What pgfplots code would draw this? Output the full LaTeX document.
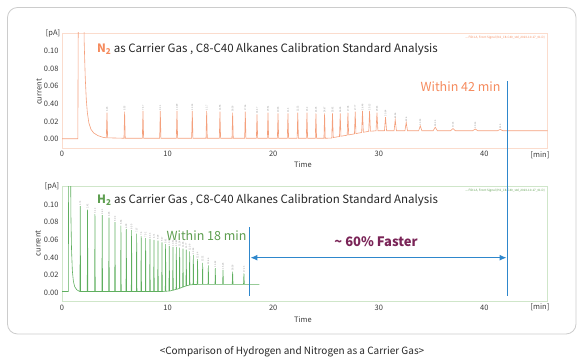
\documentclass[border=0pt]{standalone}
\usepackage{fontspec}
\setmainfont{Noto Sans CJK KR}
\usepackage{pgfplots}
\usepackage{pgfplotstable}
\pgfplotsset{compat=1.18}
\usetikzlibrary{arrows.meta}
\definecolor{norange}{HTML}{F4A07C}
\definecolor{ntext}{HTML}{F58B5E}
\definecolor{nframe}{HTML}{FBDCCD}
\definecolor{hgreen}{HTML}{5FAF5F}
\definecolor{htext}{HTML}{5E9E50}
\definecolor{hframe}{HTML}{CFE6C9}
\definecolor{blu}{HTML}{2E87CC}
\definecolor{purp}{HTML}{7A2457}
\definecolor{tickc}{HTML}{3A3A3A}

\pgfplotstableread{
t h
4.26 0.030
5.93 0.031
7.67 0.032
9.31 0.032
10.89 0.032
12.34 0.032
13.70 0.032
14.96 0.031
16.16 0.030
17.36 0.031
18.47 0.028
19.51 0.030
20.46 0.029
21.40 0.029
22.33 0.030
23.20 0.030
24.05 0.029
24.87 0.029
25.62 0.029
26.35 0.029
27.08 0.030
27.77 0.031
28.46 0.032
29.13 0.032
29.83 0.030
30.64 0.025
31.56 0.022
32.60 0.019
33.93 0.015
35.35 0.0135
37.03 0.012
39.14 0.0115
41.50 0.011
}\ntips

\pgfplotstableread{
t h
1.73 0.098
2.42 0.094
3.12 0.089
3.81 0.088
4.45 0.085
5.02 0.080
5.58 0.076
6.09 0.072
6.59 0.071
7.07 0.067
7.50 0.064
7.92 0.062
8.33 0.061
8.71 0.060
9.09 0.059
9.47 0.057
9.81 0.055
10.16 0.053
10.51 0.052
10.83 0.052
11.14 0.051
11.46 0.050
11.77 0.049
12.09 0.047
12.44 0.043
12.84 0.038
13.32 0.034
13.86 0.031
14.52 0.028
15.25 0.026
16.16 0.024
17.23 0.022
}\htips

\pgfplotsset{chrom/.style={
  scale only axis, width=485.7pt, height=115pt,
  xmin=0, xmax=46, ymin=-0.01, ymax=0.12,
  xtick={0,10,20,30,40},
  ytick={0,0.02,0.04,0.06,0.08,0.10},
  yticklabel={\ifcase\ticknum\relax 0.00\or 0.02\or 0.40\or 0.06\or 0.08\or 0.10\fi},
  xticklabel={\ifcase\ticknum\relax 0\or 10\or 20\or 30\or 40\fi},
  major tick length=0pt,
  tick label style={font=\fontsize{7.5}{9}\selectfont, text=tickc},
  /pgf/number format/assume math mode=true,
  clip=true,
},
peaklbl/.style={draw=none, mark=none, point meta=x,
  nodes near coords={\pgfmathprintnumber[fixed,precision=2]{\pgfplotspointmeta}},
  every node near coord/.append style={rotate=90, anchor=west, inner sep=0.6pt,
    font=\fontsize{2.4}{3}\selectfont, text=gray!80}}
}

\begin{document}
\begin{tikzpicture}
\useasboundingbox (0pt,0pt) rectangle (582pt,361pt);
\draw[black!20, line width=0.8pt, rounded corners=10pt] (7.5pt,27pt) rectangle (576pt,353.5pt);

% ---- top: N2
\begin{axis}[chrom, at={(62pt,213pt)}, anchor=south west, axis line style={draw=nframe, line width=0.8pt}]
\addplot[norange, line width=0.6pt] coordinates {
(0,0.0005)(1.5,0.0005)(1.56,0.2)(2.05,0.2)(2.1,0.11)(2.2,0.07)(2.3,0.045)(2.4,0.03)(2.55,0.018)(2.75,0.011)(3.0,0.007)(3.4,0.004)(3.9,0.002)
(4.2,0.0015)(4.26,0.030)(4.32,0.0015)
(5.87,0.001)(5.93,0.031)(5.99,0.001)
(7.61,0.001)(7.67,0.032)(7.73,0.001)
(9.25,0.001)(9.31,0.032)(9.37,0.001)
(10.83,0.001)(10.89,0.032)(10.95,0.001)
(12.28,0.001)(12.34,0.032)(12.40,0.001)
(13.64,0.001)(13.70,0.032)(13.76,0.001)
(14.90,0.001)(14.96,0.031)(15.02,0.001)
(16.10,0.001)(16.16,0.030)(16.22,0.001)
(17.30,0.001)(17.36,0.031)(17.42,0.001)
(18.41,0.001)(18.47,0.028)(18.53,0.001)
(19.45,0.001)(19.51,0.030)(19.57,0.001)
(20.40,0.001)(20.46,0.029)(20.52,0.001)
(21.34,0.001)(21.40,0.029)(21.46,0.001)
(22.27,0.001)(22.33,0.030)(22.39,0.001)
(23.14,0.001)(23.20,0.030)(23.26,0.001)
(23.99,0.001)(24.05,0.029)(24.11,0.001)
(24.81,0.001)(24.87,0.029)(24.93,0.001)
(25.55,0.0012)(25.62,0.029)(25.69,0.0018)
(26.28,0.003)(26.35,0.029)(26.42,0.0033)
(27.01,0.0045)(27.08,0.030)(27.15,0.0048)
(27.70,0.006)(27.77,0.031)(27.84,0.0063)
(28.38,0.0075)(28.46,0.032)(28.54,0.0078)
(29.05,0.0088)(29.13,0.032)(29.21,0.009)
(29.74,0.0094)(29.83,0.030)(29.92,0.0095)
(30.54,0.0095)(30.64,0.025)(30.74,0.0095)
(31.45,0.0095)(31.56,0.022)(31.67,0.0095)
(32.48,0.0095)(32.60,0.019)(32.72,0.0095)
(33.78,0.0095)(33.93,0.015)(34.08,0.0095)
(35.15,0.0095)(35.35,0.0135)(35.55,0.0095)
(36.80,0.0095)(37.03,0.012)(37.26,0.0095)
(38.90,0.0095)(39.14,0.0115)(39.38,0.0095)
(41.25,0.0095)(41.50,0.011)(41.75,0.0095)
(46,0.0095)};
\addplot[peaklbl] table[x=t,y=h] {\ntips};
\end{axis}

% ---- bottom: H2
\begin{axis}[chrom, at={(62pt,59.3pt)}, anchor=south west, axis line style={draw=hframe, line width=0.8pt}]
\addplot[hgreen, line width=0.6pt] coordinates {
(0,0.0015)(0.6,0.0015)(0.64,0.2)(0.8,0.2)(0.84,0.09)(0.9,0.05)(0.98,0.025)(1.08,0.013)(1.2,0.007)(1.4,0.0035)(1.6,0.002)
(1.70,0.0015)(1.73,0.098)(1.76,0.0015)
(2.39,0.0015)(2.42,0.094)(2.45,0.0015)
(3.09,0.0015)(3.12,0.089)(3.15,0.0015)
(3.78,0.0015)(3.81,0.088)(3.84,0.0015)
(4.42,0.0015)(4.45,0.085)(4.48,0.0015)
(4.99,0.0015)(5.02,0.080)(5.05,0.0015)
(5.55,0.0015)(5.58,0.076)(5.61,0.0015)
(6.06,0.0015)(6.09,0.072)(6.12,0.0015)
(6.56,0.0015)(6.59,0.071)(6.62,0.0015)
(7.04,0.0015)(7.07,0.067)(7.10,0.0015)
(7.47,0.0015)(7.50,0.064)(7.53,0.0015)
(7.89,0.0015)(7.92,0.062)(7.95,0.0015)
(8.30,0.0015)(8.33,0.061)(8.36,0.0015)
(8.68,0.0015)(8.71,0.060)(8.74,0.0015)
(9.06,0.0015)(9.09,0.059)(9.12,0.0015)
(9.44,0.0015)(9.47,0.057)(9.50,0.0015)
(9.78,0.0018)(9.81,0.055)(9.84,0.0018)
(10.13,0.002)(10.16,0.053)(10.19,0.002)
(10.48,0.003)(10.51,0.052)(10.54,0.003)
(10.80,0.004)(10.83,0.052)(10.86,0.004)
(11.11,0.005)(11.14,0.051)(11.17,0.0052)
(11.43,0.0065)(11.46,0.050)(11.49,0.0067)
(11.74,0.0078)(11.77,0.049)(11.80,0.008)
(12.06,0.0088)(12.09,0.047)(12.12,0.0089)
(12.41,0.0093)(12.44,0.043)(12.47,0.0094)
(12.81,0.0095)(12.84,0.038)(12.87,0.0095)
(13.29,0.0095)(13.32,0.034)(13.35,0.0095)
(13.83,0.0095)(13.86,0.031)(13.89,0.0095)
(14.49,0.0095)(14.52,0.028)(14.55,0.0095)
(15.21,0.0095)(15.25,0.026)(15.29,0.0095)
(16.12,0.0095)(16.16,0.024)(16.20,0.0095)
(17.19,0.0095)(17.23,0.022)(17.27,0.0095)
(18.7,0.0095)};
\addplot[peaklbl] table[x=t,y=h] {\htips};
\end{axis}

% ---- labels
\begin{scope}[font=\fontsize{7.5}{9}\selectfont, text=tickc]
\node at (53pt,327.7pt) {[pA]};
\node at (52pt,175pt) {[pA]};
\node[rotate=90] at (39pt,269pt) {current};
\node[rotate=90] at (38pt,117.7pt) {current};
\node at (303pt,196pt) {Time};
\node at (303pt,41pt) {Time};
\node at (540pt,206pt) {[min]};
\node at (540pt,54.3pt) {[min]};
\end{scope}

\node[anchor=west, inner sep=0pt, font=\fontsize{11.5}{13}\selectfont, text=black!85] at (97pt,312pt)
  {{\bfseries\color{ntext}N\textsubscript{2}} as Carrier Gas , C8-C40 Alkanes Calibration Standard Analysis};
\node[anchor=west, inner sep=0pt, font=\fontsize{11.5}{13}\selectfont, text=black!85] at (97pt,160.3pt)
  {{\bfseries\color{htext}H\textsubscript{2}} as Carrier Gas , C8-C40 Alkanes Calibration Standard Analysis};

\node[anchor=east, inner sep=0pt, font=\fontsize{3}{3.5}\selectfont, text=ntext] at (545pt,323.3pt) {--- FID1 A, Front Signal (N2\_C8-C40\_std\_2023-10-17\_01.D)};
\node[anchor=east, inner sep=0pt, font=\fontsize{3}{3.5}\selectfont, text=htext] at (545pt,170pt) {--- FID1 A, Front Signal (H2\_C8-C40\_std\_2023-10-17\_01.D)};

\node[anchor=east, inner sep=0pt, font=\fontsize{12.5}{14}\selectfont, text=ntext] at (500.7pt,274pt) {Within 42 min};
\node[anchor=east, inner sep=0pt, font=\fontsize{12.5}{14}\selectfont, text=htext] at (246.7pt,125.3pt) {Within 18 min};
\node[inner sep=0pt, font=\bfseries\fontsize{13}{15}\selectfont, text=purp] at (376pt,119pt) {\textasciitilde{} 60\% Faster};

\fill[blu] (506.85pt,65pt) rectangle (508.15pt,280pt);
\fill[blu] (248.85pt,65pt) rectangle (250.15pt,133.7pt);
\draw[draw=blu, fill=blu, line width=1.2pt, {Latex[length=7pt,width=6pt]}-{Latex[length=7pt,width=6pt]}] (250.4pt,103.3pt) -- (506.6pt,103.3pt);

\node[font=\fontsize{10}{12}\selectfont, text=black!85] at (292pt,9pt) {<Comparison of Hydrogen and Nitrogen as a Carrier Gas>};
\end{tikzpicture}
\end{document}
